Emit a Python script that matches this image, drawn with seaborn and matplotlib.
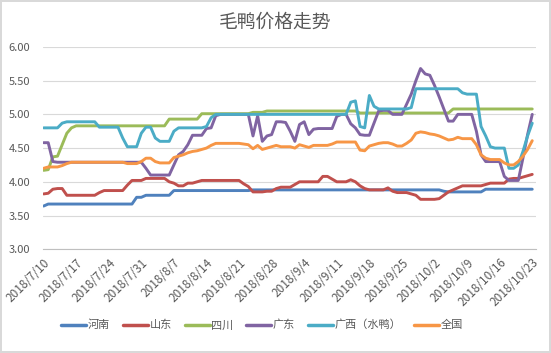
import numpy as np
import pandas as pd
import seaborn as sns
import matplotlib.pyplot as plt

# --- data: daily prices 2018/7/10 .. 2018/10/23 (106 days) ---
start_date = "2018-07-10"
n_days = 106

henan = [3.64, 3.67, 3.67, 3.67, 3.67, 3.67, 3.67,
         3.67, 3.67, 3.67, 3.67, 3.67, 3.67, 3.67,
         3.67, 3.67, 3.67, 3.67, 3.67, 3.67, 3.77,
         3.77, 3.80, 3.80, 3.80, 3.80, 3.80, 3.80,
         3.87, 3.87, 3.87, 3.87, 3.87, 3.87, 3.87,
         3.87, 3.87, 3.87, 3.87, 3.87, 3.87, 3.87,
         3.87, 3.87, 3.87, 3.88, 3.88, 3.88, 3.88,
         3.88, 3.88, 3.88, 3.88, 3.88, 3.88, 3.88,
         3.88, 3.88, 3.88, 3.88, 3.88, 3.88, 3.88,
         3.88, 3.88, 3.88, 3.88, 3.88, 3.88, 3.88,
         3.88, 3.88, 3.88, 3.88, 3.88, 3.88, 3.88,
         3.88, 3.88, 3.88, 3.88, 3.88, 3.88, 3.88,
         3.88, 3.88, 3.86, 3.85, 3.85, 3.85, 3.85,
         3.85, 3.85, 3.85, 3.85, 3.89, 3.89, 3.89,
         3.89, 3.89, 3.89, 3.89, 3.89, 3.89, 3.89,
         3.89]

shandong = [3.82, 3.83, 3.89, 3.90, 3.90, 3.80, 3.80,
            3.80, 3.80, 3.80, 3.80, 3.80, 3.84, 3.87,
            3.87, 3.87, 3.87, 3.87, 3.95, 4.02, 4.02,
            4.02, 4.05, 4.05, 4.05, 4.05, 4.05, 4.00,
            3.98, 3.94, 3.94, 3.98, 3.98, 4.00, 4.02,
            4.02, 4.02, 4.02, 4.02, 4.02, 4.02, 4.02,
            4.02, 3.97, 3.93, 3.85, 3.85, 3.85, 3.86,
            3.86, 3.90, 3.92, 3.92, 3.92, 3.96, 4.00,
            4.00, 4.00, 4.00, 4.00, 4.08, 4.08, 4.04,
            4.00, 4.00, 4.00, 4.03, 4.00, 3.94, 3.90,
            3.88, 3.88, 3.88, 3.88, 3.91, 3.86, 3.84,
            3.84, 3.84, 3.82, 3.80, 3.74, 3.74, 3.74,
            3.74, 3.75, 3.80, 3.85, 3.88, 3.91, 3.94,
            3.94, 3.94, 3.94, 3.94, 3.96, 3.98, 3.98,
            3.98, 3.98, 4.04, 4.05, 4.05, 4.07, 4.09,
            4.11]

sichuan = [4.17, 4.18, 4.37, 4.38, 4.55, 4.72, 4.80,
           4.83, 4.83, 4.83, 4.83, 4.83, 4.83, 4.83,
           4.83, 4.83, 4.83, 4.83, 4.83, 4.83, 4.83,
           4.83, 4.83, 4.83, 4.83, 4.83, 4.83, 4.93,
           4.93, 4.93, 4.93, 4.93, 4.93, 4.93, 5.01,
           5.01, 5.01, 5.01, 5.01, 5.01, 5.01, 5.01,
           5.01, 5.01, 5.01, 5.03, 5.03, 5.03, 5.05,
           5.05, 5.05, 5.05, 5.05, 5.05, 5.05, 5.05,
           5.05, 5.05, 5.05, 5.05, 5.05, 5.05, 5.05,
           5.05, 5.05, 5.05, 5.05, 5.05, 5.02, 5.02,
           5.02, 5.02, 5.02, 5.02, 5.02, 5.02, 5.02,
           5.02, 5.02, 5.02, 5.02, 5.02, 5.02, 5.02,
           5.02, 5.02, 5.02, 5.02, 5.08, 5.08, 5.08,
           5.08, 5.08, 5.08, 5.08, 5.08, 5.08, 5.08,
           5.08, 5.08, 5.08, 5.08, 5.08, 5.08, 5.08,
           5.08]

guangdong = [4.58, 4.58, 4.30, 4.29, 4.29, 4.29, 4.29,
             4.29, 4.29, 4.29, 4.29, 4.29, 4.29, 4.29,
             4.29, 4.29, 4.29, 4.29, 4.29, 4.29, 4.29,
             4.29, 4.20, 4.10, 4.10, 4.10, 4.10, 4.10,
             4.25, 4.40, 4.45, 4.55, 4.69, 4.69, 4.69,
             4.79, 4.80, 4.98, 5.00, 5.00, 5.00, 5.00,
             5.00, 5.00, 5.00, 4.68, 4.98, 4.60, 4.68,
             4.70, 4.89, 4.89, 4.88, 4.75, 4.60, 4.85,
             4.89, 4.70, 4.78, 4.79, 4.79, 4.79, 4.79,
             4.97, 5.00, 5.00, 4.86, 4.80, 4.70, 4.69,
             4.69, 4.87, 5.05, 5.06, 5.06, 5.00, 5.00,
             5.00, 5.15, 5.30, 5.50, 5.68, 5.60, 5.58,
             5.43, 5.26, 5.08, 4.90, 4.90, 5.00, 5.00,
             5.00, 5.00, 4.75, 4.40, 4.30, 4.30, 4.30,
             4.30, 4.08, 4.02, 4.02, 4.02, 4.35, 4.70,
             5.00]

guangxi = [4.80, 4.80, 4.80, 4.80, 4.87, 4.89, 4.89,
           4.89, 4.89, 4.89, 4.89, 4.89, 4.81, 4.81,
           4.81, 4.81, 4.81, 4.65, 4.52, 4.52, 4.52,
           4.72, 4.81, 4.81, 4.65, 4.60, 4.60, 4.60,
           4.75, 4.80, 4.80, 4.80, 4.80, 4.80, 4.80,
           4.82, 4.95, 5.00, 5.00, 5.00, 5.00, 5.00,
           5.00, 5.00, 5.00, 5.00, 5.00, 5.00, 5.00,
           5.00, 5.00, 5.00, 5.00, 5.00, 5.00, 5.00,
           5.00, 5.00, 5.00, 5.00, 5.00, 5.00, 5.00,
           5.00, 5.00, 5.00, 5.18, 5.20, 4.82, 4.80,
           5.28, 5.12, 5.08, 5.08, 5.08, 5.08, 5.08,
           5.08, 5.08, 5.10, 5.38, 5.38, 5.38, 5.38,
           5.38, 5.38, 5.38, 5.38, 5.38, 5.38, 5.32,
           5.30, 5.30, 5.30, 4.82, 4.68, 4.52, 4.50,
           4.50, 4.50, 4.20, 4.20, 4.25, 4.45, 4.68,
           4.87]

national = [4.20, 4.22, 4.22, 4.22, 4.24, 4.27, 4.29,
            4.29, 4.29, 4.29, 4.29, 4.29, 4.29, 4.29,
            4.29, 4.29, 4.29, 4.29, 4.27, 4.27, 4.27,
            4.30, 4.35, 4.35, 4.30, 4.28, 4.28, 4.28,
            4.36, 4.38, 4.40, 4.43, 4.45, 4.46, 4.48,
            4.50, 4.54, 4.57, 4.57, 4.57, 4.57, 4.57,
            4.57, 4.56, 4.55, 4.49, 4.54, 4.48, 4.50,
            4.52, 4.54, 4.52, 4.52, 4.52, 4.50, 4.55,
            4.53, 4.51, 4.54, 4.54, 4.54, 4.54, 4.56,
            4.59, 4.59, 4.59, 4.59, 4.59, 4.47, 4.46,
            4.53, 4.55, 4.57, 4.58, 4.58, 4.56, 4.53,
            4.53, 4.57, 4.62, 4.72, 4.74, 4.73, 4.71,
            4.70, 4.68, 4.65, 4.62, 4.63, 4.66, 4.64,
            4.64, 4.64, 4.55, 4.40, 4.35, 4.33, 4.33,
            4.33, 4.28, 4.25, 4.25, 4.30, 4.38, 4.48,
            4.61]

series_names = ["河南", "山东", "四川", "广东", "广西（水鸭）", "全国"]
series_values = [henan, shandong, sichuan, guangdong, guangxi, national]
colors = ["#4F81BD", "#C0504D", "#9BBB59", "#8064A2", "#4BACC6", "#F79646"]
y_ticks = [3.0, 3.5, 4.0, 4.5, 5.0, 5.5, 6.0]

dates = pd.date_range(start_date, periods=n_days, freq="D")
df = pd.concat(
    [pd.DataFrame({"date": dates, "price": v, "region": name})
     for name, v in zip(series_names, series_values)],
    ignore_index=True,
)

# --- style ---
sns.set_theme(style="white")
plt.rcParams["font.family"] = ["Noto Sans CJK SC", "DejaVu Sans"]
grey = "#595959"

fig = plt.figure(figsize=(5.51, 3.53), dpi=100)
fig.patch.set_edgecolor("#d9d9d9")
fig.patch.set_linewidth(1.5)
ax = fig.add_axes([0.078, 0.294, 0.895, 0.573])

sns.lineplot(data=df, x="date", y="price", hue="region", hue_order=series_names,
             palette=colors, linewidth=2.1, ax=ax, legend=False)

ax.set_ylim(3.0, 6.0)
ax.set_yticks(y_ticks)
ax.set_yticklabels([f"{t:.2f}" for t in y_ticks], color=grey, fontsize=8)
ax.grid(axis="y", color="#d9d9d9", linewidth=0.8)
ax.set_xlim(dates[0] - pd.Timedelta(hours=3), dates[-1] + pd.Timedelta(hours=20))

week_ticks = dates[::7]
ax.set_xticks(week_ticks)
ax.set_xticklabels([f"{d.year}/{d.month}/{d.day}" for d in week_ticks],
                   rotation=45, ha="right", rotation_mode="anchor",
                   color=grey, fontsize=8.5)
ax.tick_params(axis="x", length=3, color="#bfbfbf", width=0.8, pad=2)
ax.tick_params(axis="y", length=0, pad=9)
ax.set_xlabel("")
ax.set_ylabel("")
for s in ["top", "right", "left"]:
    ax.spines[s].set_visible(False)
ax.spines["bottom"].set_color("#bfbfbf")
ax.spines["bottom"].set_linewidth(0.8)

fig.text(0.5, 0.938, "毛鸭价格走势", ha="center", va="center", fontsize=13.5, color=grey)

handles = [plt.Line2D([], [], color=c, linewidth=2.5) for c in colors]
fig.legend(handles, series_names, loc="center", bbox_to_anchor=(0.476, 0.079),
           ncol=6, frameon=False, fontsize=8, handlelength=2.25, columnspacing=1.15,
           handletextpad=0.15, labelcolor=grey)

fig.savefig("out.png", dpi=100)
